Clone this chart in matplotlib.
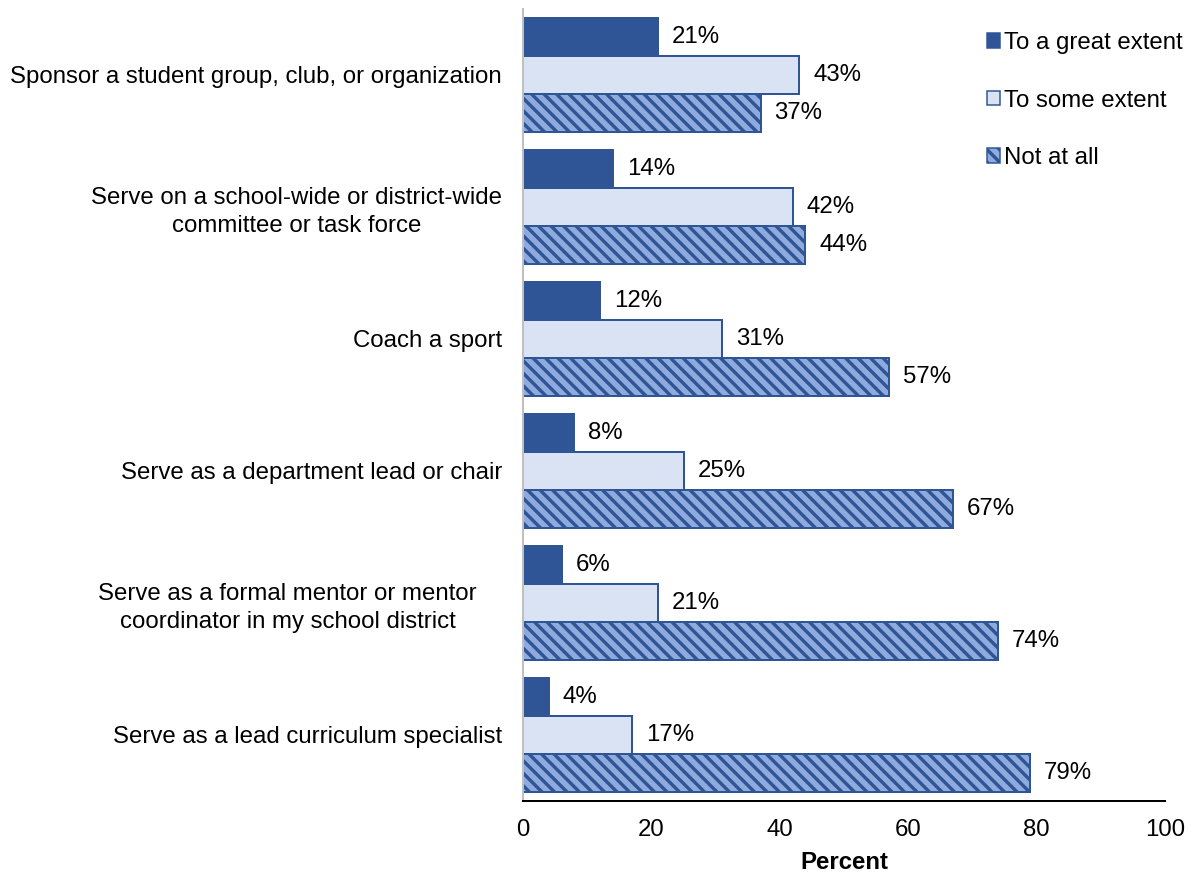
import matplotlib
matplotlib.use("Agg")
import matplotlib.pyplot as plt
import matplotlib.transforms as mtransforms
from matplotlib.patches import Patch
import numpy as np

DPI = 75
W_PX, H_PX = 1193, 875


def pt(px):
    """Convert a pixel size to points at the figure's dpi."""
    return px * 72.0 / DPI


plt.rcParams['font.family'] = ['Liberation Sans', 'DejaVu Sans']
plt.rcParams['hatch.color'] = '#2F5597'
plt.rcParams['hatch.linewidth'] = pt(3.4)

categories = [
    "Sponsor a student group, club, or organization",
    "Serve on a school-wide or district-wide\ncommittee or task force",
    "Coach a sport",
    "Serve as a department lead or chair",
    "Serve as a formal mentor or mentor\ncoordinator in my school district",
    "Serve as a lead curriculum specialist",
]
series_names = ["To a great extent", "To some extent", "Not at all"]
great_extent = [21, 14, 12, 8, 6, 4]
some_extent = [43, 42, 31, 25, 21, 17]
not_at_all = [37, 44, 57, 67, 74, 79]
x_ticks = [0, 20, 40, 60, 80, 100]

dark = '#2F5597'
light = '#DAE3F3'
mid = '#8FAADC'
FS = pt(24)

fig = plt.figure(figsize=(W_PX / DPI, H_PX / DPI), dpi=DPI)
ax = fig.add_axes([523 / W_PX, 1 - 801 / H_PX, (1165 - 523) / W_PX, 792 / H_PX])

y = np.arange(len(categories))
h = 0.29
styles = [
    dict(color=dark, edgecolor=dark, hatch=None),
    dict(color=light, edgecolor=dark, hatch=None),
    dict(color=mid, edgecolor=dark, hatch='\\\\'),
]
all_vals = [great_extent, some_extent, not_at_all]
for i, (vals, st) in enumerate(zip(all_vals, styles)):
    pos = y + (i - 1) * h
    ax.barh(pos, vals, height=h, facecolor=st['color'], edgecolor=st['edgecolor'],
            linewidth=pt(2), hatch=st['hatch'])
    for p, v in zip(pos, vals):
        ax.annotate(f"{v}%", xy=(v, p), xytext=(pt(14), 0), textcoords='offset points',
                    va='center', ha='left', fontsize=FS, color='black')

ax.set_xlim(0, 100)
ax.set_ylim(len(categories) - 0.5, -0.5)
ax.set_xticks(x_ticks)
ax.set_xticklabels([str(t) for t in x_ticks], fontsize=FS)
ax.set_yticks(y)
ax.set_yticklabels(categories, fontsize=FS, linespacing=1.3)
ax.tick_params(axis='both', length=0)
ax.tick_params(axis='x', pad=pt(18))
ax.tick_params(axis='y', pad=pt(21))
ax.set_xlabel("Percent", fontsize=FS, fontweight='bold', labelpad=pt(10))

# wrapped category labels are centred line by line; the mentor label's box sits a bit further left
for k, lab in enumerate(ax.get_yticklabels()):
    lab.set_multialignment('center')
    if k == 4:
        shift = mtransforms.ScaledTranslation(-25 / DPI, 0, fig.dpi_scale_trans)
        lab.set_transform(lab.get_transform() + shift)

for s in ['top', 'right']:
    ax.spines[s].set_visible(False)
ax.spines['left'].set_color('#BFBFBF')
ax.spines['left'].set_linewidth(pt(2))
ax.spines['bottom'].set_color('black')
ax.spines['bottom'].set_linewidth(pt(2))

handles = [Patch(facecolor=st['color'], edgecolor=st['edgecolor'], linewidth=pt(1.5),
                 hatch=st['hatch']) for st in styles]
fig.legend(handles, series_names, loc='upper left', bbox_to_anchor=(987 / W_PX, 1 - 32 / H_PX),
           frameon=False, fontsize=FS, handlelength=0.54, handleheight=0.54,
           handletextpad=0.17, labelspacing=1.48, borderpad=0, borderaxespad=0)

fig.savefig("out.png", dpi=DPI)
